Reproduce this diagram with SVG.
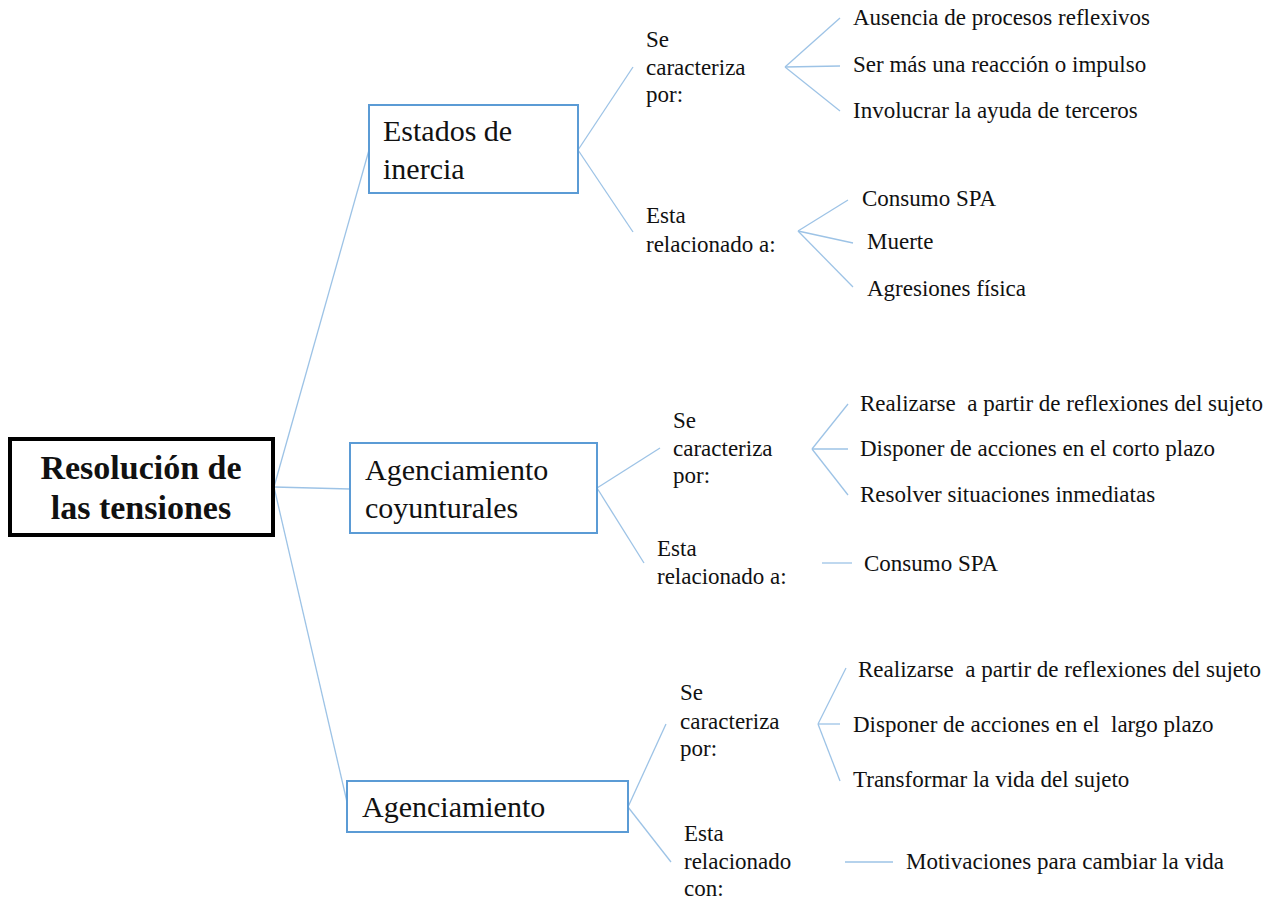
<svg xmlns="http://www.w3.org/2000/svg" width="1267" height="903" viewBox="0 0 1267 903">
<style>
text{font-family:'Liberation Serif','Times New Roman',serif;fill:#111}
.leaf{font-size:23px}
.lbl{font-size:23px}
.box{fill:#fff;stroke:#5B9BD5;stroke-width:2}
.bt{font-size:30px}
.c line{stroke:#9DC3E6;stroke-width:1.3}
</style>
<rect width="1267" height="903" fill="#fff"/>
<g class="c" id="connectors">
<line x1="274" y1="487" x2="369" y2="150"/>
<line x1="274" y1="487" x2="350" y2="489"/>
<line x1="274" y1="487" x2="347" y2="802"/>
<line x1="578" y1="150" x2="633" y2="67"/>
<line x1="578" y1="150" x2="633" y2="232"/>
<line x1="785" y1="67" x2="840" y2="18"/>
<line x1="785" y1="67" x2="840" y2="66"/>
<line x1="785" y1="67" x2="840" y2="111"/>
<line x1="798" y1="231" x2="848" y2="200"/>
<line x1="798" y1="231" x2="853" y2="243"/>
<line x1="798" y1="231" x2="853" y2="287"/>
<line x1="597" y1="488" x2="660" y2="448"/>
<line x1="597" y1="488" x2="644" y2="563"/>
<line x1="812" y1="449" x2="848" y2="404"/>
<line x1="812" y1="449" x2="848" y2="449"/>
<line x1="812" y1="449" x2="848" y2="495"/>
<line x1="822" y1="563" x2="852" y2="563"/>
<line x1="628" y1="807" x2="666" y2="724"/>
<line x1="628" y1="807" x2="671" y2="862"/>
<line x1="818" y1="724" x2="846" y2="668"/>
<line x1="818" y1="724" x2="840" y2="724"/>
<line x1="818" y1="724" x2="840" y2="781"/>
<line x1="845" y1="862" x2="893" y2="862"/>
</g>
<g id="root">
<rect x="10" y="439" width="263" height="96" fill="#fff" stroke="#000" stroke-width="4"/>
<text x="141" y="479" text-anchor="middle" font-size="34" font-weight="bold">Resolución de</text>
<text x="141" y="519" text-anchor="middle" font-size="34" font-weight="bold">las tensiones</text>
</g>
<g id="estados">
<rect class="box" x="369" y="105" width="209" height="88"/>
<text class="bt" x="383" y="141">Estados de</text>
<text class="bt" x="383" y="179">inercia</text>
</g>
<g id="coyunturales">
<rect class="box" x="350" y="443" width="247" height="90"/>
<text class="bt" x="365" y="480">Agenciamiento</text>
<text class="bt" x="365" y="518">coyunturales</text>
</g>
<g id="agenciamiento">
<rect class="box" x="347" y="781" width="281" height="51"/>
<text class="bt" x="362" y="817">Agenciamiento</text>
</g>
<g id="labels">
<text class="lbl" x="646" y="47">Se</text>
<text class="lbl" x="646" y="75">caracteriza</text>
<text class="lbl" x="646" y="102">por:</text>
<text class="lbl" x="646" y="223">Esta</text>
<text class="lbl" x="646" y="252">relacionado a:</text>
<text class="lbl" x="673" y="428">Se</text>
<text class="lbl" x="673" y="456">caracteriza</text>
<text class="lbl" x="673" y="483">por:</text>
<text class="lbl" x="657" y="556">Esta</text>
<text class="lbl" x="657" y="584">relacionado a:</text>
<text class="lbl" x="680" y="700">Se</text>
<text class="lbl" x="680" y="729">caracteriza</text>
<text class="lbl" x="680" y="756">por:</text>
<text class="lbl" x="684" y="841">Esta</text>
<text class="lbl" x="684" y="869">relacionado</text>
<text class="lbl" x="684" y="896">con:</text>
</g>
<g id="leaves">
<text class="leaf" x="853" y="25">Ausencia de procesos reflexivos</text>
<text class="leaf" x="853" y="72">Ser más una reacción o impulso</text>
<text class="leaf" x="853" y="118">Involucrar la ayuda de terceros</text>
<text class="leaf" x="862" y="206">Consumo SPA</text>
<text class="leaf" x="867" y="249">Muerte</text>
<text class="leaf" x="867" y="296">Agresiones física</text>
<text class="leaf" x="860" y="411" xml:space="preserve">Realizarse  a partir de reflexiones del sujeto</text>
<text class="leaf" x="860" y="456">Disponer de acciones en el corto plazo</text>
<text class="leaf" x="860" y="502">Resolver situaciones inmediatas</text>
<text class="leaf" x="864" y="571">Consumo SPA</text>
<text class="leaf" x="858" y="677" xml:space="preserve">Realizarse  a partir de reflexiones del sujeto</text>
<text class="leaf" x="853" y="732" xml:space="preserve">Disponer de acciones en el  largo plazo</text>
<text class="leaf" x="853" y="787">Transformar la vida del sujeto</text>
<text class="leaf" x="906" y="869">Motivaciones para cambiar la vida</text>
</g>
</svg>
